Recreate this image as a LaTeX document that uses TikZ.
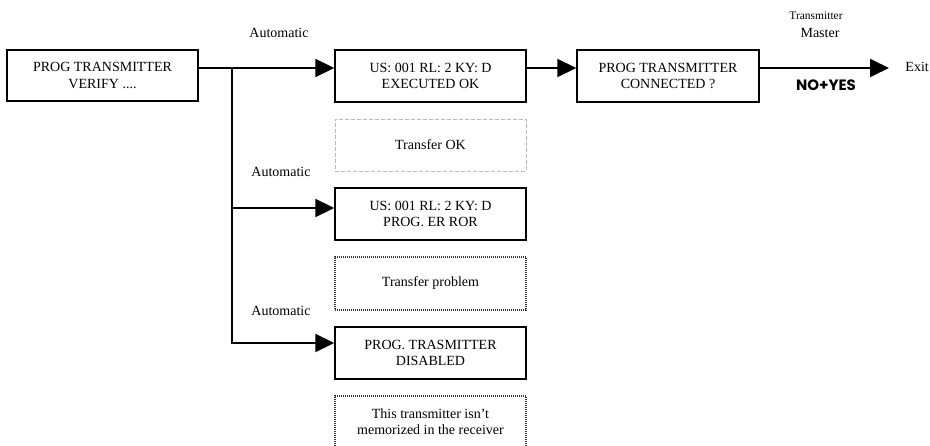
\documentclass[tikz,border=0pt]{standalone}
\usepackage{fontspec}
\setmainfont{Liberation Serif}
\newfontfamily\nyfont{Poppins}
\usetikzlibrary{arrows.meta,calc}
\begin{document}
\begin{tikzpicture}[x=1pt,y=-1pt,
  txt/.style={font=\fontsize{14}{16.5}\selectfont, align=center, inner sep=0pt},
  box/.style={txt, draw, line width=1.4pt, minimum width=191pt, minimum height=52pt},
  gbox/.style={txt, draw=black!28, line width=0.9pt, dash pattern=on 4pt off 2pt, minimum width=191pt, minimum height=52pt},
  dbox/.style={txt, draw=black!80, line width=1.1pt, dash pattern=on 1pt off 1pt, minimum width=191pt, minimum height=52pt},
  ln/.style={line width=1.8pt},
  arr/.style={ln, -{Triangle[length=19pt,width=18pt]}},
  lbl/.style={font=\fontsize{14}{16}\selectfont, inner sep=0pt}
]
\useasboundingbox (0,0) rectangle (930,446);
\clip (0,0) rectangle (930,446);

\node[box, minimum height=51pt] (b1) at (102.5,75.5) {PROG TRANSMITTER\\ VERIFY ....};
\node[box] (b2) at (430.5,76) {US: 001 RL: 2 KY: D\\EXECUTED OK};
\node[gbox] (t1) at (430.5,145) {Transfer OK};
\node[box] (b4) at (430.5,214) {US: 001 RL: 2 KY: D\\PROG. ER ROR};
\node[dbox, minimum height=53pt] (t2) at (430.5,283.5) {Transfer problem};
\node[box] (b6) at (430.5,353) {PROG. TRASMITTER\\DISABLED};
\node[dbox, minimum height=51pt] (t3) at (430.5,421.5) {This transmitter isn't\\ memorized in the receiver};
\node[box, minimum width=182pt] (b3) at (668,76) {PROG TRANSMITTER\\CONNECTED ?};

\node[lbl] (au1) at (279,33) {Automatic};
\node[lbl] (au2) at (281,172) {Automatic};
\node[lbl] (au3) at (281,311) {Automatic};

\node[lbl, font=\fontsize{11.5}{13}\selectfont] (tr) at (816,16) {Transmitter};
\node[lbl] (ms) at (820,33) {Master};
\node[inner sep=0pt, font=\nyfont\bfseries\fontsize{15}{17}\selectfont] (ny) at (826,85) {NO+YES};
\node[lbl, anchor=east] (ex) at (929,67) {Exit};

\coordinate (j) at (232,68);
\coordinate (a2) at (232,208);
\coordinate (a3) at (232,343);
\coordinate (xe) at (889,68);

\draw[ln] (b1.east |- j) -- (j);
\draw[arr] (j) -- (j -| b2.west);
\draw[ln] (j) -- (a2);
\draw[arr] (a2) -- (a2 -| b4.west);
\draw[arr] (a2) -- (a3) -- (a3 -| b6.west);
\draw[arr] (b2.east |- j) -- (b3.west |- j);
\draw[arr] (b3.east |- j) -- (xe);
\end{tikzpicture}
\end{document}
